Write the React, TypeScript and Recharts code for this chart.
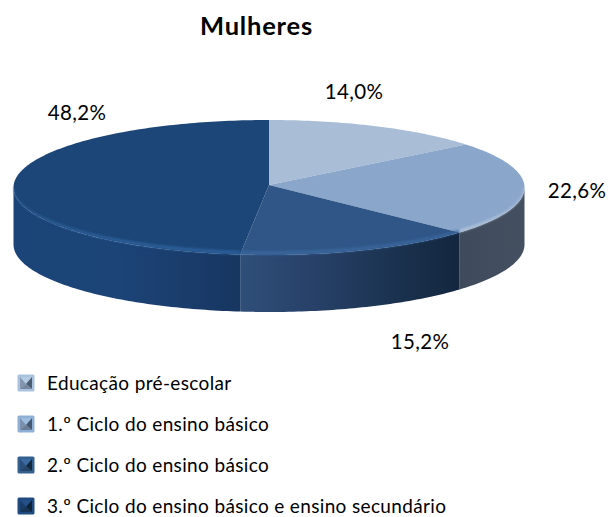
import { Legend, Pie, PieChart } from 'recharts';

const CATEGORIES = [
  'Educação pré-escolar',
  '1.º Ciclo do ensino básico',
  '2.º Ciclo do ensino básico',
  '3.º Ciclo do ensino básico e ensino secundário',
];
const VALUES = [14.0, 22.6, 15.2, 48.2];

const TOP_COLORS = ['#a9bed6', '#8aa6cb', '#2f5686', '#1c4677'];
const BEVEL_COLORS = ['#a9bed6', '#c3d0e0', '#3d6ba3', '#3168a6'];
const WALL_STOPS = [
  [['0%', '#5b6b80'], ['100%', '#5b6b80']],
  [['0%', '#3f4b5c'], ['100%', '#444f60']],
  [['0%', '#2f4f78'], ['30%', '#28426a'], ['70%', '#1b3350'], ['100%', '#13263e']],
  [['0%', '#1b4478'], ['45%', '#1c4477'], ['75%', '#1a3d6c'], ['100%', '#173660']],
];
const ICON_COLORS = [
  { frame: '#a9c2de', top: '#b4cbe4', left: '#8496ae', right: '#4c5c72', bottom: '#76879d' },
  { frame: '#8fb0d6', top: '#9dbde0', left: '#7a90ad', right: '#46586f', bottom: '#6a7d96' },
  { frame: '#34608f', top: '#3a6ba1', left: '#2b4f7c', right: '#14293f', bottom: '#274567' },
  { frame: '#1f4b80', top: '#235089', left: '#1a3d68', right: '#0e2238', bottom: '#173355' },
];

const LABEL_POS = [
  [354, 91],
  [577, 190],
  [420, 341],
  [77, 112],
];

const WIDTH = 609;
const HEIGHT = 517;
const CX = 269;
const CY = 187.5;
const RADIUS = 255.5;
const RY = 67.5;
const APEX_LIFT = 2.5;
const DEPTH = 57;

const data = CATEGORIES.map((name, i) => ({ name, value: VALUES[i], fill: TOP_COLORS[i] }));

// walks the tilted rim between two recharts angles (degrees)
function rim(cx: number, cy: number, rx: number, ry: number, from: number, to: number) {
  const steps = Math.max(2, Math.ceil(Math.abs(to - from)));
  const pts: string[] = [];
  for (let s = 0; s <= steps; s++) {
    const a = ((from + ((to - from) * s) / steps) * Math.PI) / 180;
    pts.push(`${(cx + rx * Math.cos(a)).toFixed(2)} ${(cy - ry * Math.sin(a)).toFixed(2)}`);
  }
  return pts;
}

function Slice(props: any) {
  const { cx, cy, outerRadius, startAngle, endAngle, name } = props;
  const i = CATEGORIES.indexOf(name);
  const ry = (outerRadius * RY) / RADIUS;
  const top = rim(cx, cy, outerRadius, ry, startAngle, endAngle);
  const topPath = `M${cx} ${cy - APEX_LIFT} L${top.join(' L')} Z`;

  // only the front half of the disc shows a wall
  const a1 = Math.min(startAngle, 0);
  const a2 = Math.max(endAngle, -180);
  const hasWall = a1 > a2;
  let wallPath = '';
  let bevelPath = '';
  if (hasWall) {
    const upper = rim(cx, cy, outerRadius, ry, a1, a2);
    const lower = rim(cx, cy + DEPTH, outerRadius, ry, a2, a1);
    wallPath = `M${upper.join(' L')} L${lower.join(' L')} Z`;
    const inner = rim(cx, cy, outerRadius - 1, ry - 4, a2, a1);
    bevelPath = `M${upper.join(' L')} L${inner.join(' L')} Z`;
  }

  return (
    <g>
      {hasWall && <path d={wallPath} fill={`url(#wall${i})`} />}
      <path d={topPath} fill={TOP_COLORS[i]} />
      {hasWall && <path d={bevelPath} fill={BEVEL_COLORS[i]} filter="url(#soft)" opacity={0.7} />}
    </g>
  );
}

function SliceLabel(props: any) {
  const i = CATEGORIES.indexOf(props.name);
  const [x, y] = LABEL_POS[i];
  return (
    <text x={x} y={y} textAnchor="middle" dominantBaseline="central" fontSize={20.5} letterSpacing={0.3} fill="#000">
      {VALUES[i].toFixed(1).replace('.', ',')}%
    </text>
  );
}

function LegendIcon({ i }: { i: number }) {
  const c = ICON_COLORS[i];
  return (
    <svg width={18} height={18} style={{ display: 'block' }}>
      <rect x={0.5} y={0.5} width={17} height={17} rx={1.5} fill={c.frame} />
      <polygon points="3,3 15,3 9,10" fill={c.top} />
      <polygon points="3,3 9,10 3,15" fill={c.left} />
      <polygon points="15,3 9,10 15,15" fill={c.right} />
      <polygon points="3,15 15,15 9,10" fill={c.bottom} />
    </svg>
  );
}

function LegendList() {
  return (
    <div>
      {CATEGORIES.map((name, i) => (
        <div key={name} style={{ display: 'flex', alignItems: 'center', height: 41, whiteSpace: 'nowrap' }}>
          <LegendIcon i={i} />
          <span style={{ marginLeft: 12, fontSize: 19, letterSpacing: 0.35, color: '#000' }}>{name}</span>
        </div>
      ))}
    </div>
  );
}

export default function App() {
  return (
    <div style={{ position: 'absolute', left: 0, top: 0, width: WIDTH, height: HEIGHT, fontFamily: 'Lato, sans-serif', background: '#fff' }}>
      <PieChart width={WIDTH} height={HEIGHT} margin={{ top: 0, right: 0, bottom: 0, left: 0 }}>
        <defs>
          {WALL_STOPS.map((stops, i) => (
            <linearGradient key={i} id={`wall${i}`} x1="0" y1="0" x2="1" y2="0">
              {stops.map(([offset, color]) => (
                <stop key={offset} offset={offset} stopColor={color} />
              ))}
            </linearGradient>
          ))}
          <filter id="soft" x="-5%" y="-20%" width="110%" height="140%">
            <feGaussianBlur stdDeviation="0.8" />
          </filter>
        </defs>
        <text x={256.5} y={25} textAnchor="middle" dominantBaseline="central" fontSize={25.5} letterSpacing={0.8} fontWeight={700} fill="#000">
          Mulheres
        </text>
        <Pie
          data={data}
          dataKey="value"
          nameKey="name"
          cx={CX}
          cy={CY}
          innerRadius={0}
          outerRadius={RADIUS}
          startAngle={90}
          endAngle={-270}
          stroke="none"
          shape={Slice}
          label={SliceLabel}
          labelLine={false}
          isAnimationActive={false}
        />
        <Legend content={LegendList} wrapperStyle={{ position: 'absolute', left: 17, top: 362, width: 500 }} />
      </PieChart>
    </div>
  );
}
